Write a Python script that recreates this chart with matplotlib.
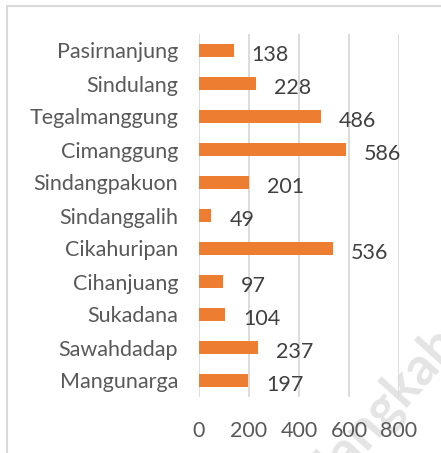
import matplotlib
matplotlib.use("Agg")
from matplotlib import pyplot as plt
from matplotlib.patches import Rectangle

# data, top to bottom as shown
villages = ["Pasirnanjung", "Sindulang", "Tegalmanggung", "Cimanggung", "Sindangpakuon",
            "Sindanggalih", "Cikahuripan", "Cihanjuang", "Sukadana", "Sawahdadap", "Mangunarga"]
values = [138, 228, 486, 586, 201, 49, 536, 97, 104, 237, 197]
x_ticks = [0, 200, 400, 600, 800]

BAR_COLOR = "#ED7D31"
FONT = ["Lato", "DejaVu Sans"]
FS = 15.5

fig = plt.figure(figsize=(4.41, 4.53), dpi=100)
fig.patch.set_facecolor("white")

# chart border
fig.patches.append(Rectangle((7 / 441, -0.05), 1.2, 1 - 6 / 453 + 0.05, transform=fig.transFigure,
                             fill=False, edgecolor="#d9d9d9", linewidth=1.5))

# faint watermark, behind everything
fig.text(462 / 441, 1 - 345 / 453, "Sumedangkab", rotation=48, rotation_mode="anchor",
         fontsize=38, color="#e4e4e4", ha="right", va="baseline",
         family=FONT, fontweight="bold", zorder=-1)

ax = fig.add_axes([199 / 441, 1 - 397 / 453, 200 / 441, 363 / 453])
ax.patch.set_alpha(0)
pos = list(range(len(villages)))
ax.barh(pos, values, height=0.38, color=BAR_COLOR, zorder=3)
ax.set_ylim(len(villages) - 0.5, -0.5)
ax.set_xlim(0, 800)
ax.set_yticks(pos)
ax.set_yticklabels(villages, fontsize=FS, color="#595959", family=FONT)
ax.set_xticks(x_ticks)
ax.set_xticklabels([str(t) for t in x_ticks], fontsize=FS, color="#595959", family=FONT)
ax.tick_params(axis="y", length=0, pad=15)
ax.tick_params(axis="x", length=0, pad=17)
ax.grid(axis="x", color="#d9d9d9", linewidth=1.3, zorder=0)
for s in ax.spines.values():
    s.set_visible(False)

for p, v in zip(pos, values):
    ax.annotate(str(v), (v, p), xytext=(13, -3), textcoords="offset points",
                va="center", ha="left", fontsize=FS, color="#404040", family=FONT)

fig.savefig("out.png", dpi=100)
